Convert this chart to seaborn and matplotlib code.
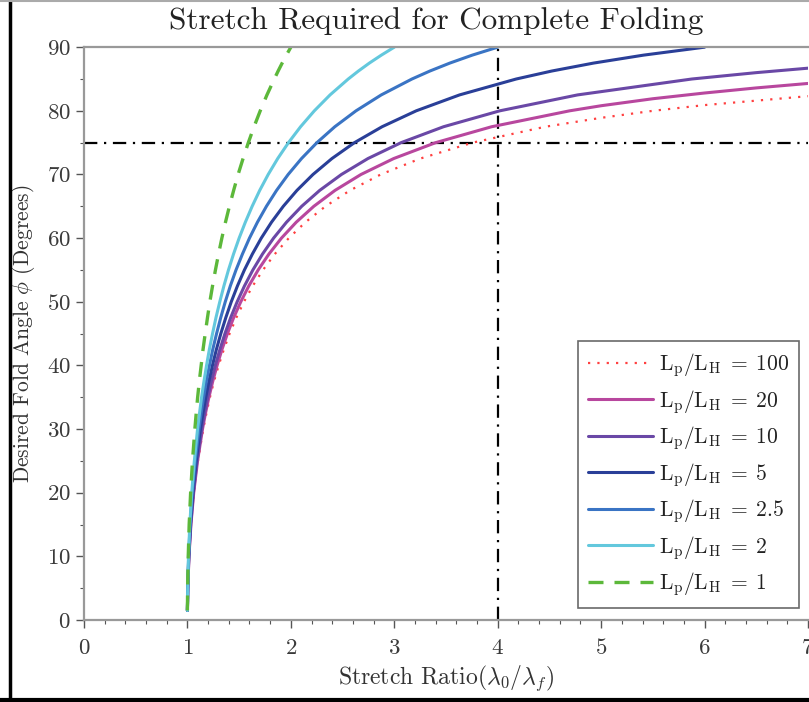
import pandas as pd
import seaborn as sns
import matplotlib.pyplot as plt
from matplotlib.lines import Line2D

# Fold angle (degrees) vs stretch ratio, one pair of lists per curve
phi_full = [1.5, 5, 10, 15, 20, 25, 30, 32.5, 35, 37.5, 40, 42.5, 45, 47.5, 50, 52.5, 55, 57.5,
            60, 62.5, 65, 67.5, 70, 72.5, 75, 77.5, 80, 82.5, 85, 86.25, 87.5, 88.75, 90]

phi_L1 = phi_full
ratio_L1 = [1.000, 1.002, 1.008, 1.017, 1.031, 1.049, 1.072, 1.085, 1.099, 1.115, 1.133, 1.151,
            1.172, 1.194, 1.217, 1.243, 1.271, 1.301, 1.333, 1.368, 1.406, 1.447, 1.490, 1.538,
            1.589, 1.644, 1.704, 1.769, 1.840, 1.877, 1.916, 1.957, 2.000]

phi_L2 = phi_full
ratio_L2 = [1.000, 1.003, 1.010, 1.023, 1.042, 1.067, 1.098, 1.117, 1.137, 1.160, 1.185, 1.212,
            1.243, 1.276, 1.313, 1.353, 1.397, 1.446, 1.500, 1.560, 1.626, 1.699, 1.781, 1.873,
            1.977, 2.094, 2.227, 2.379, 2.555, 2.653, 2.759, 2.875, 3.000]

phi_L25 = phi_full
ratio_L25 = [1.000, 1.003, 1.012, 1.026, 1.047, 1.076, 1.112, 1.133, 1.157, 1.183, 1.213, 1.245,
             1.282, 1.322, 1.366, 1.415, 1.470, 1.532, 1.600, 1.677, 1.764, 1.862, 1.974, 2.103,
             2.252, 2.425, 2.630, 2.874, 3.171, 3.344, 3.537, 3.754, 4.000]

phi_L5 = phi_full
ratio_L5 = [1.000, 1.003, 1.013, 1.029, 1.053, 1.085, 1.126, 1.150, 1.178, 1.208, 1.242, 1.280,
            1.323, 1.371, 1.424, 1.484, 1.551, 1.628, 1.714, 1.813, 1.927, 2.059, 2.214, 2.397,
            2.615, 2.882, 3.212, 3.631, 4.179, 4.522, 4.926, 5.410, 6.000]

phi_L10 = phi_full[:29] + [86.0, 86.7]
ratio_L10 = [1.000, 1.004, 1.014, 1.032, 1.058, 1.093, 1.139, 1.166, 1.197, 1.231, 1.270, 1.314,
             1.363, 1.418, 1.481, 1.552, 1.633, 1.726, 1.833, 1.958, 2.105, 2.279, 2.489, 2.745,
             3.066, 3.476, 4.020, 4.772, 5.877, 6.500, 7.000]

phi_L20 = phi_full[:27] + [80.8, 81.9, 82.8, 83.6, 84.3]
ratio_L20 = [1.000, 1.004, 1.015, 1.034, 1.061, 1.098, 1.146, 1.175, 1.208, 1.245, 1.287, 1.334,
             1.387, 1.447, 1.516, 1.594, 1.684, 1.788, 1.909, 2.052, 2.222, 2.427, 2.678, 2.994,
             3.400, 3.941, 4.695, 5.000, 5.500, 6.000, 6.500, 7.000]

phi_L100 = phi_full[:26] + [78.9, 80.0, 80.9, 81.6, 82.3]
ratio_L100 = [1.000, 1.004, 1.015, 1.035, 1.064, 1.102, 1.153, 1.184, 1.218, 1.257, 1.302, 1.352,
              1.408, 1.473, 1.547, 1.632, 1.731, 1.845, 1.980, 2.141, 2.335, 2.572, 2.869, 3.251,
              3.757, 4.460, 5.000, 5.500, 6.000, 6.500, 7.000]

labels = ["100", "20", "10", "5", "2.5", "2", "1"]
colors = ["#ff4040", "#b8479e", "#6a48a6", "#2a3f98", "#3a74c4", "#63c8dd", "#5cb83a"]

curves = [(ratio_L100, phi_L100), (ratio_L20, phi_L20), (ratio_L10, phi_L10), (ratio_L5, phi_L5),
          (ratio_L25, phi_L25), (ratio_L2, phi_L2), (ratio_L1, phi_L1)]

sns.set_theme(style="ticks")
plt.rcParams["font.family"] = ["cmr10", "DejaVu Serif"]
plt.rcParams["mathtext.fontset"] = "cm"
plt.rcParams["axes.formatter.use_mathtext"] = True

fig = plt.figure(figsize=(8.09, 7.02), dpi=100)
ax = fig.add_axes([0.1038, 0.1168, 0.895, 0.816])

for (xs, ys), lab, col in zip(curves, labels, colors):
    df = pd.DataFrame({"ratio": xs, "phi": ys})
    if lab == "100":
        ls, lw = (0, (1, 3.2)), 1.6
    elif lab == "1":
        ls, lw = (0, (4.5, 3.3)), 2.4
    else:
        ls, lw = "-", 2.2
    sns.lineplot(data=df, x="ratio", y="phi", ax=ax, color=col, linestyle=ls, linewidth=lw,
                 sort=False, estimator=None,
                 label=r"$\mathrm{L_p/L_H}\;=\;\mathrm{" + lab + "}$")

# reference lines
ax.axhline(75, color="black", lw=1.6, linestyle=(0, (6, 3, 1, 3)), zorder=1)
ax.axvline(4, color="black", lw=1.6, linestyle=(0, (6, 3, 1, 3)), zorder=1)

ax.set_xlim(0, 7)
ax.set_ylim(0, 90)
ax.set_xticks(range(0, 8))
ax.set_yticks(range(0, 91, 10))
ax.set_xticks([i * 0.2 for i in range(36)], minor=True)
ax.set_yticks(range(0, 91, 5), minor=True)
ax.tick_params(which="major", length=6, width=1, color="#555555", labelsize=16.5,
               labelcolor="#3a3a3a")
ax.tick_params(axis="x", which="major", pad=7)
ax.tick_params(which="minor", length=3, width=0.8, color="#555555")
for side in ["left", "bottom", "top"]:
    ax.spines[side].set_color("#999999")
    ax.spines[side].set_linewidth(1.6)
ax.spines["right"].set_visible(False)

ax.set_title("Stretch Required for Complete Folding", fontsize=22.5, color="#222222", pad=13,
             x=0.486)
ax.set_xlabel(r"Stretch Ratio($\lambda_0/\lambda_f$)", fontsize=17, color="#333333", labelpad=4)
ax.set_ylabel(r"Desired Fold Angle $\phi$ (Degrees)", fontsize=15.5, color="#333333", labelpad=7)

leg = ax.legend(loc="lower right", bbox_to_anchor=(0.988, 0.021), borderaxespad=0, fontsize=15.5,
                handlelength=3.0, handletextpad=0.3, labelspacing=0.4, frameon=True,
                fancybox=False, borderpad=0.45)
leg.get_frame().set_edgecolor("#444444")
leg.get_frame().set_linewidth(1.2)
for t in leg.get_texts():
    t.set_color("#222222")

# page border of the original screenshot
fig.add_artist(Line2D([0.012, 0.012], [0.0, 1.0], color="black", lw=2.5, transform=fig.transFigure))
fig.add_artist(Line2D([0.0, 1.0], [0.003, 0.003], color="black", lw=3, transform=fig.transFigure))
fig.add_artist(Line2D([0.0, 1.0], [0.999, 0.999], color="#aaaaaa", lw=1.5, transform=fig.transFigure))

fig.savefig("out.png", dpi=100)
